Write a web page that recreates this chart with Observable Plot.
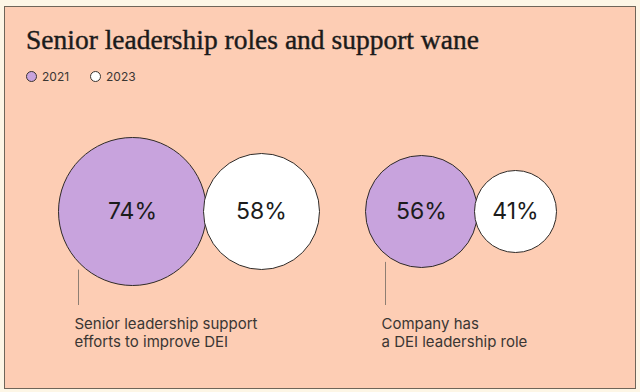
<!DOCTYPE html>
<html>
<head>
<meta charset="utf-8">
<script src="https://cdn.jsdelivr.net/npm/d3@7"></script>
<script src="https://cdn.jsdelivr.net/npm/@observablehq/plot@0.6"></script>
<style>
  html, body { margin: 0; padding: 0; }
  body { width: 640px; height: 392px; overflow: hidden; position: relative; background: #fdf6e6; font-family: Inter, "Noto Sans", sans-serif; }
  .panel { position: absolute; left: 4px; top: 6px; width: 632px; height: 383px; box-sizing: border-box; border: 1px solid #6f6559; background: #fdcdb4; }
  .title { position: absolute; left: 26px; top: 26px; margin: 0; font-family: "Liberation Serif", serif; font-weight: 400; font-size: 27.5px; line-height: 27px; color: #1b1b1b; white-space: nowrap; -webkit-text-stroke: 0.4px #1b1b1b; }
  .sw { position: absolute; width: 9px; height: 9px; border-radius: 50%; border: 1px solid #3a3430; }
  .lg { position: absolute; font-size: 12px; line-height: 12px; color: #3a3633; }
  #chart { position: absolute; left: 0; top: 96px; }
</style>
</head>
<body>
<div class="panel"></div>
<h1 class="title">Senior leadership roles and support wane</h1>
<div id="legend"></div>
<div id="chart"></div>
<script>
// ---- data ----
const years = ["2021", "2023"];
const categories = ["Senior leadership support\nefforts to improve DEI", "Company has\na DEI leadership role"];
const values2021 = [74, 56];
const values2023 = [58, 41];
const yearColors = ["#c8a3dd", "#ffffff"];

// ---- legend (HTML) ----
const legend = document.getElementById("legend");
const legendX = [26, 90];
years.forEach((yr, i) => {
  const sw = document.createElement("span");
  sw.className = "sw";
  sw.style.left = legendX[i] + "px";
  sw.style.top = "71px";
  sw.style.background = yearColors[i];
  legend.appendChild(sw);
  const t = document.createElement("span");
  t.className = "lg";
  t.textContent = yr;
  t.style.left = (legendX[i] + 16) + "px";
  t.style.top = "71px";
  legend.appendChild(t);
});

// ---- layout derived from values (1 percentage point = 1 unit) ----
const groupLeft = [58, 365];
const rowY = 115;
const overlap = 3;
const bubbles = [];
const lines = [];
const labels = [];
categories.forEach((c, i) => {
  const r1 = values2021[i], r2 = values2023[i];
  const cx1 = groupLeft[i] + r1;
  const cx2 = cx1 + r1 + r2 - overlap;
  bubbles.push({category: c, year: years[0], value: r1, cx: cx1, cy: rowY});
  bubbles.push({category: c, year: years[1], value: r2, cx: cx2, cy: rowY});
  const lx = groupLeft[i] + 20;
  const dx = cx1 - lx;
  const y1 = rowY + Math.sqrt(r1 * r1 - dx * dx) + 8;
  lines.push({x: lx, y1: y1, y2: 209});
  labels.push({x: lx - 4, y: 220, text: c});
});

const W = 640, H = 292;
const chart = Plot.plot({
  width: W,
  height: H,
  marginTop: 0, marginRight: 0, marginBottom: 0, marginLeft: 0,
  style: {background: "transparent", fontFamily: "Inter, 'Noto Sans', sans-serif", overflow: "visible"},
  x: {domain: [0, W], range: [0, W], axis: null},
  y: {domain: [0, H], range: [0, H], axis: null},
  r: {type: "linear", domain: [0, 100], range: [0, 100]},
  color: {type: "ordinal", domain: years, range: yearColors},
  marks: [
    Plot.ruleX(lines, {x: "x", y1: "y1", y2: "y2", stroke: "#8e7e72", strokeWidth: 1}),
    Plot.dot(bubbles, {x: "cx", y: "cy", r: "value", fill: "year", stroke: "#2f2a27", strokeWidth: 1, fillOpacity: 1, sort: null}),
    Plot.text(bubbles, {x: "cx", y: "cy", text: d => d.value + "%", fontSize: 23, fill: "#1c1c1c"}),
    Plot.text(labels, {x: "x", y: "y", text: "text", textAnchor: "start", lineAnchor: "top", fontSize: 15, lineHeight: 1.2, fill: "#3a3633"})
  ]
});
document.getElementById("chart").appendChild(chart);
</script>
</body>
</html>
